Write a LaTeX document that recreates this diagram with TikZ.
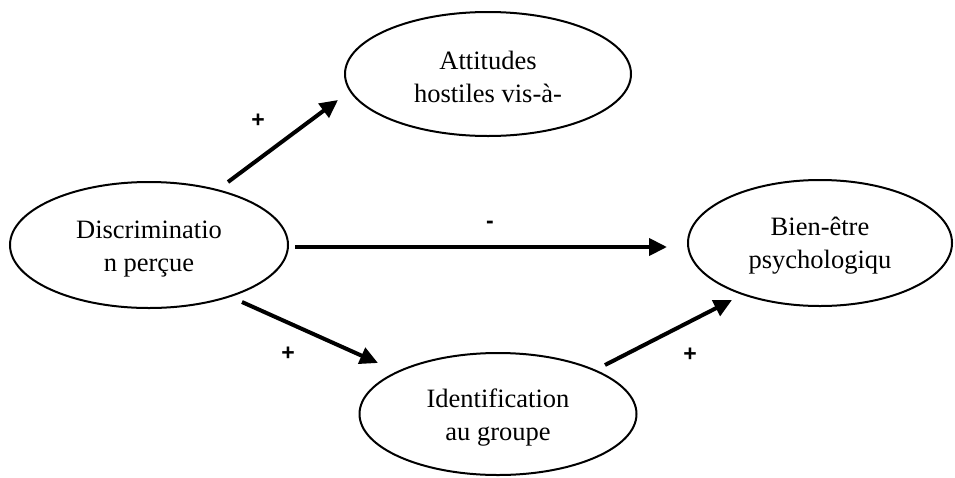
\documentclass[tikz,border=0pt]{standalone}
\usepackage{fontspec}
\setmainfont{Liberation Serif}
\newfontfamily\labfont{Liberation Sans}
\usetikzlibrary{shapes.geometric,arrows.meta}
\begin{document}
\begin{tikzpicture}[x=1pt,y=-1pt,
  var/.style={draw=black,line width=2pt,ellipse,inner sep=0pt},
  txt/.style={align=center,inner sep=0pt,font=\fontsize{26.5}{33}\selectfont},
  link/.style={line width=4pt,-{Triangle[length=18pt,width=17pt]}},
  sign/.style={font=\labfont\bfseries\fontsize{23}{26}\selectfont,inner sep=0pt}]
\useasboundingbox (0,0) rectangle (955,477);
\node[var,minimum width=278pt,minimum height=126pt] (disc) at (149,245) {};
\node[var,minimum width=286pt,minimum height=124pt] (att) at (488,74) {};
\node[var,minimum width=264pt,minimum height=126pt] (bien) at (820,243) {};
\node[var,minimum width=277pt,minimum height=122pt] (ident) at (498,414) {};
\node[txt] (disct) at ([yshift=-4pt]disc.center) {Discriminatio\\n perçue};
\node[txt] (attt) at ([yshift=-3pt]att.center) {Attitudes\\hostiles vis-à-};
\node[txt] (bient) at ([yshift=-3pt]bien.center) {Bien-être\\psychologiqu};
\node[txt] (identt) at ([yshift=-4pt]ident.center) {Identification\\au groupe};
\coordinate (s1) at (228,182); \coordinate (e1) at (338,100);
\coordinate (s2) at (295,247); \coordinate (e2) at (667,247);
\coordinate (s3) at (242,302); \coordinate (e3) at (378,363);
\coordinate (s4) at (605,365); \coordinate (e4) at (732,300);
\draw[link] (s1) -- (e1);
\draw[link] (s2) -- (e2);
\draw[link] (s3) -- (e3);
\draw[link] (s4) -- (e4);
\node[sign] (p1) at (258,121) {+};
\node[sign] (m2) at (490,225) {-};
\node[sign] (p3) at (288,354) {+};
\node[sign] (p4) at (690,355) {+};
\end{tikzpicture}
\end{document}
